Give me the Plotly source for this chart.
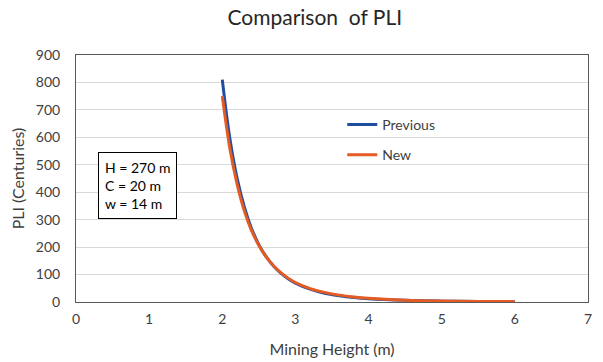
import plotly.graph_objects as go

heights = [2.0, 2.1, 2.2, 2.3, 2.4, 2.5, 2.6, 2.7, 2.8, 2.9, 3.0, 3.2, 3.4, 3.6, 3.8, 4.0, 4.5, 5.0, 5.5, 6.0]
pli_previous = [810, 602, 454, 347, 268, 209, 165, 131, 105, 85, 69, 47, 32, 23, 16.5, 12, 6, 3.1, 1.7, 1.0]
pli_new = [750, 565, 432, 333, 260, 206, 164, 132, 107, 87, 71, 49, 35, 25, 18, 13.5, 6.8, 3.7, 2.1, 1.3]

x_ticks = [0, 1, 2, 3, 4, 5, 6, 7]
y_ticks = [0, 100, 200, 300, 400, 500, 600, 700, 800, 900]

FONT = "Lato, 'Open Sans', sans-serif"
BLUE = "#1F4E9E"
ORANGE = "#E55B24"

fig = go.Figure()
fig.add_trace(go.Scatter(x=heights, y=pli_previous, mode="lines", name="Previous",
                         line=dict(color=BLUE, width=3, shape="spline"), legend="legend"))
fig.add_trace(go.Scatter(x=heights, y=pli_new, mode="lines", name="New",
                         line=dict(color=ORANGE, width=3, shape="spline"), legend="legend2"))

fig.update_layout(
    width=603, height=362,
    margin=dict(l=76, r=15, t=55, b=60),
    paper_bgcolor="white", plot_bgcolor="white",
    font=dict(family=FONT, size=14, color="#404040"),
    title=dict(text="Comparison  of PLI", x=0.522, xanchor="center", y=0.952, yanchor="middle",
               font=dict(size=21, color="#262626")),
    showlegend=True,
    legend=dict(x=0.52, y=0.717, xanchor="left", yanchor="middle", bgcolor="rgba(0,0,0,0)",
                font=dict(size=14, color="#404040"), itemwidth=30),
    legend2=dict(x=0.52, y=0.595, xanchor="left", yanchor="middle", bgcolor="rgba(0,0,0,0)",
                 font=dict(size=14, color="#404040"), itemwidth=30),
    xaxis=dict(range=[0, 7], tickvals=x_ticks, showgrid=False, zeroline=False, automargin=False,
               showline=True, linecolor="#595959", linewidth=1, mirror=True,
               ticks="", ticklabelstandoff=4, tickfont=dict(size=14, color="#404040"),
               title=dict(text="Mining Height (m)", font=dict(size=16, color="#404040"), standoff=18)),
    yaxis=dict(range=[0, 900], tickvals=y_ticks, showgrid=True, gridcolor="#D9D9D9", gridwidth=1,
               zeroline=False, showline=True, linecolor="#595959", linewidth=1, mirror=True,
               automargin=False,
               ticks="", ticklabelstandoff=12, tickfont=dict(size=14, color="#404040"),
               title=dict(text="PLI (Centuries)", font=dict(size=16, color="#404040"), standoff=7)),
)

fig.add_annotation(
    x=0.84, y=426, xref="x", yref="y",
    text="H = 270 m<br>C = 20 m<br>w = 14 m",
    showarrow=False, align="left",
    font=dict(size=14, color="#000000", family=FONT),
    bordercolor="#000000", borderwidth=1, borderpad=6, bgcolor="white",
)

fig.write_html("out.html")
